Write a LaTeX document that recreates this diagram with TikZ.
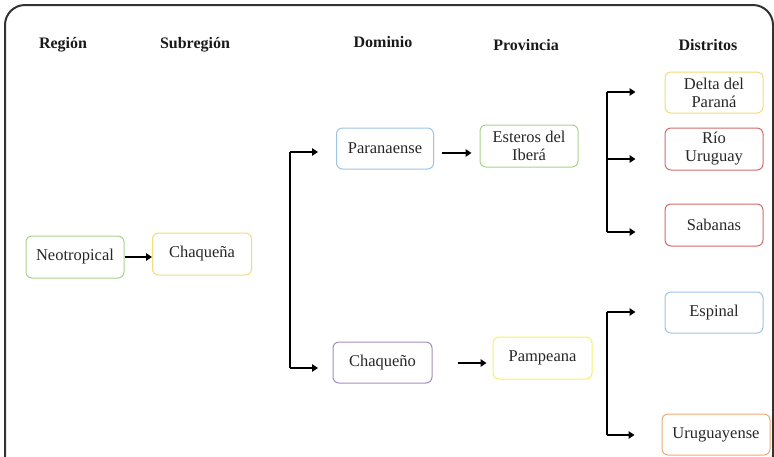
\documentclass[tikz,border=0pt]{standalone}
\usepackage{fontspec}
\setmainfont{Liberation Serif}
\usetikzlibrary{arrows.meta}
\definecolor{cgreen}{HTML}{A9D18E}
\definecolor{cyellow}{HTML}{F2DC7A}
\definecolor{cblue}{HTML}{9DC3E6}
\definecolor{cred}{HTML}{D46A6A}
\definecolor{cpurple}{HTML}{A58CC0}
\definecolor{clemon}{HTML}{F5F06A}
\definecolor{corange}{HTML}{F0A872}
\tikzset{
  box/.style={draw=#1, line width=1pt, rounded corners=6pt, align=center,
    inner sep=0pt, font=\fontsize{16.5}{18}\selectfont, text=black!85},
  head/.style={font=\fontsize{16}{18}\selectfont\bfseries, text=black!90},
  link/.style={line width=2.2pt, -{Triangle[length=6pt,width=7.5pt]}},
  bar/.style={line width=2.2pt},
}
\begin{document}
\begin{tikzpicture}[x=1pt,y=-1pt]
\useasboundingbox (0,0) rectangle (774,456);
\begin{scope}
\clip (0,0) rectangle (774,456);
\draw[line width=2pt, black!80, rounded corners=20pt] (5,5) rectangle (773,475);
\end{scope}

% column headings
\node[head] (hreg) at (63,45) {Región};
\node[head] (hsub) at (195,45) {Subregión};
\node[head] (hdom) at (383,42) {Dominio};
\node[head] (hprov) at (526,45) {Provincia};
\node[head] (hdist) at (708,45) {Distritos};

% boxes
\node[box=cgreen, minimum width=98pt, minimum height=42pt] (neo) at (75,257) {Neotropical};
\node[box=cyellow, minimum width=99pt, minimum height=42pt] (chqa) at (202,254) {Chaqueña};
\node[box=cblue, minimum width=97pt, minimum height=41pt] (para) at (385,148.5) {Paranaense};
\node[box=cgreen, minimum width=98pt, minimum height=42pt] (este) at (529,146) {Esteros del\\Iberá};
\node[box=cpurple, minimum width=99pt, minimum height=41pt] (chqo) at (382.5,362.5) {Chaqueño};
\node[box=clemon, minimum width=99pt, minimum height=42pt] (pamp) at (542.5,358) {Pampeana};
\node[box=cyellow, minimum width=98pt, minimum height=41pt] (delta) at (714,92.5) {Delta del\\Paraná};
\node[box=cred, minimum width=98pt, minimum height=42pt] (rio) at (714,149) {Río\\Uruguay};
\node[box=cred, minimum width=98pt, minimum height=42pt] (saba) at (714,225) {Sabanas};
\node[box=cblue, minimum width=98pt, minimum height=41pt] (espi) at (714,312.5) {Espinal};
\node[box=corange, minimum width=108pt, minimum height=41pt] (urgy) at (716,434.5) {Uruguayense};

% branch points
\coordinate (dtop) at (290,152);
\coordinate (dbot) at (290,368);
\coordinate (ptop) at (607,92);
\coordinate (pbot) at (607,232);
\coordinate (qtop) at (607,312);
\coordinate (qbot) at (607,435);

% connectors
\draw[link] (neo.east |- 0,257) -- (chqa.west |- 0,257);
\draw[bar] (dtop) -- (dbot);
\draw[link] (dtop) -- ++(28,0) coordinate (dta);
\draw[link] (dbot) -- ++(28,0) coordinate (dba);
\draw[link] ([xshift=8pt]para.east |- 0,153) -- ([xshift=-8pt]este.west |- 0,153);
\draw[link] ([xshift=25pt]chqo.east |- 0,363) -- ([xshift=-6pt]pamp.west |- 0,363);
\draw[bar] (ptop) -- (pbot);
\draw[link] (ptop) -- ([xshift=-29pt]delta.west |- ptop);
\draw[link] (ptop |- 0,159) -- ([xshift=-29pt]rio.west |- 0,159);
\draw[link] (pbot) -- ([xshift=-29pt]saba.west |- pbot);
\draw[bar] (qtop) -- (qbot);
\draw[link] (qtop) -- ([xshift=-29pt]espi.west |- qtop);
\draw[link] (qbot) -- ([xshift=-27pt]urgy.west |- qbot);
\end{tikzpicture}
\end{document}
